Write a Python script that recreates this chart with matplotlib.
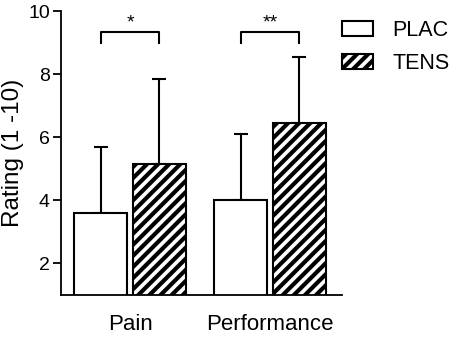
import numpy as np
import matplotlib
matplotlib.use("Agg")
import matplotlib.pyplot as plt

plt.rcParams['font.family'] = ['Liberation Sans', 'DejaVu Sans']
plt.rcParams['hatch.linewidth'] = 3.0

# --- dati ---
categorie = ['Pain', 'Performance']
gruppi = ['PLAC', 'TENS']
media_plac = [3.6, 4.0]
media_tens = [5.15, 6.45]
sd_plac = [2.1, 2.1]
sd_tens = [2.7, 2.1]
signif = ['*', '**']

fig = plt.figure(figsize=(4.54, 3.37), dpi=100)
ax = fig.add_axes([61/454, 1 - 295/337, (342 - 61)/454, (295 - 11)/337])

x = np.arange(len(categorie))
w = 0.38
off = 0.21

ax.bar(x - off, media_plac, w, color='white', edgecolor='black',
       linewidth=1.5, label=gruppi[0], zorder=2)
ax.bar(x + off, media_tens, w, color='white', edgecolor='black',
       linewidth=1.5, hatch='///', label=gruppi[1], zorder=2)

for xs, m, s in [(x - off, media_plac, sd_plac), (x + off, media_tens, sd_tens)]:
    ax.errorbar(xs, m, yerr=[np.zeros(len(s)), s], fmt='none', ecolor='black',
                elinewidth=1.5, capsize=4.7, capthick=1.5, zorder=1)

# parentesi di significativita'
for i, s in enumerate(signif):
    x0, x1 = x[i] - off, x[i] + off
    ax.plot([x0, x0, x1, x1], [9.0, 9.35, 9.35, 9.0], color='black', lw=1.5,
            clip_on=False)
    ax.text(x[i], 9.62, s, ha='center', va='center', fontsize=14)

ax.set_xlim(-0.493, 1.514)
ax.set_ylim(1, 10)
ax.set_yticks([2, 4, 6, 8, 10])
ax.set_xticks(x)
ax.set_xticklabels(categorie)
ax.set_ylabel('Rating (1 -10)', fontsize=17.5, labelpad=3)
ax.tick_params(axis='x', length=0, pad=14, labelsize=16)
ax.tick_params(axis='y', length=6, width=1.3, labelsize=14, pad=2)
for sp in ['top', 'right']:
    ax.spines[sp].set_visible(False)
for sp in ['left', 'bottom']:
    ax.spines[sp].set_linewidth(1.3)

ax.legend(loc='upper left', bbox_to_anchor=(342/454, 1 - 20/337),
          bbox_transform=fig.transFigure, frameon=False, fontsize=15.5,
          handlelength=1.44, handleheight=0.7, handletextpad=0.9,
          labelspacing=0.55, borderpad=0, borderaxespad=0)

fig.savefig('out.png', dpi=100)
